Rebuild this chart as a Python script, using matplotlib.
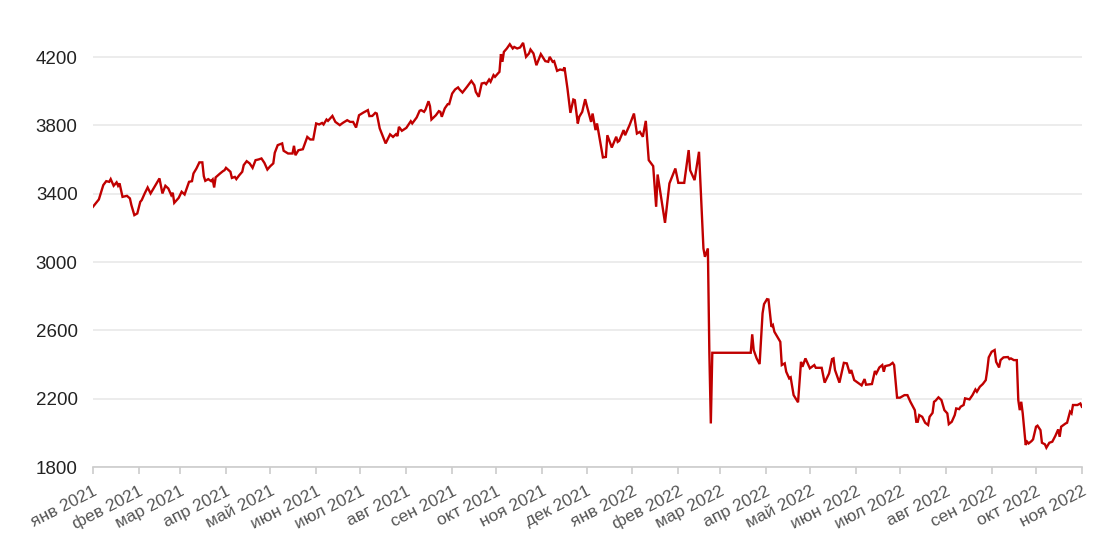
import matplotlib
matplotlib.use("Agg")
import matplotlib.pyplot as plt
import pandas as pd

dates = [
 "2021-01-01","2021-01-05","2021-01-08","2021-01-10","2021-01-12","2021-01-13","2021-01-15","2021-01-17","2021-01-18","2021-01-19",
 "2021-01-21","2021-01-24","2021-01-26","2021-01-27","2021-01-29","2021-01-31","2021-02-02","2021-02-03","2021-02-05","2021-02-07",
 "2021-02-09","2021-02-11","2021-02-15","2021-02-17","2021-02-19","2021-02-21","2021-02-23","2021-02-24","2021-02-25","2021-02-28",
 "2021-03-02","2021-03-04","2021-03-07","2021-03-09","2021-03-10","2021-03-12","2021-03-14","2021-03-16","2021-03-17","2021-03-18",
 "2021-03-20","2021-03-22","2021-03-23","2021-03-24","2021-03-25","2021-03-28","2021-03-30","2021-03-31","2021-04-01","2021-04-04",
 "2021-04-05","2021-04-07","2021-04-08","2021-04-10","2021-04-12","2021-04-13","2021-04-15","2021-04-17","2021-04-19","2021-04-21",
 "2021-04-23","2021-04-25","2021-04-27","2021-04-29","2021-05-01","2021-05-03","2021-05-04","2021-05-06","2021-05-09","2021-05-10",
 "2021-05-13","2021-05-16","2021-05-17","2021-05-18","2021-05-20","2021-05-23","2021-05-26","2021-05-28","2021-05-30","2021-06-01",
 "2021-06-03","2021-06-05","2021-06-06","2021-06-08","2021-06-09","2021-06-12","2021-06-14","2021-06-17","2021-06-19","2021-06-22",
 "2021-06-24","2021-06-26","2021-06-28","2021-06-30","2021-07-03","2021-07-06","2021-07-07","2021-07-09","2021-07-11","2021-07-12",
 "2021-07-14","2021-07-18","2021-07-20","2021-07-21","2021-07-23","2021-07-25","2021-07-26","2021-07-27","2021-07-29","2021-08-01",
 "2021-08-04","2021-08-05","2021-08-08","2021-08-10","2021-08-11","2021-08-13","2021-08-14","2021-08-16","2021-08-17","2021-08-18",
 "2021-08-21","2021-08-23","2021-08-24","2021-08-25","2021-08-27","2021-08-29","2021-08-30","2021-09-01","2021-09-03","2021-09-05",
 "2021-09-06","2021-09-08","2021-09-11","2021-09-14","2021-09-16","2021-09-17","2021-09-19","2021-09-21","2021-09-23","2021-09-24",
 "2021-09-26","2021-09-27","2021-09-29","2021-09-30","2021-10-02","2021-10-03","2021-10-04","2021-10-05","2021-10-06","2021-10-08",
 "2021-10-10","2021-10-12","2021-10-13","2021-10-15","2021-10-17","2021-10-19","2021-10-21","2021-10-23","2021-10-24","2021-10-26",
 "2021-10-28","2021-10-31","2021-11-03","2021-11-05","2021-11-06","2021-11-08","2021-11-09","2021-11-11","2021-11-13","2021-11-15",
 "2021-11-16","2021-11-18","2021-11-20","2021-11-22","2021-11-23","2021-11-25","2021-11-26","2021-11-28","2021-11-30","2021-12-01",
 "2021-12-04","2021-12-05","2021-12-07","2021-12-08","2021-12-12","2021-12-14","2021-12-15","2021-12-18","2021-12-21","2021-12-22",
 "2021-12-23","2021-12-26","2021-12-27","2021-12-30","2022-01-02","2022-01-04","2022-01-06","2022-01-08","2022-01-10","2022-01-12",
 "2022-01-15","2022-01-17","2022-01-18","2022-01-23","2022-01-26","2022-01-30","2022-02-01","2022-02-05","2022-02-08","2022-02-09",
 "2022-02-12","2022-02-15","2022-02-18","2022-02-19","2022-02-21","2022-02-22","2022-02-23","2022-02-24","2022-03-22","2022-03-23",
 "2022-03-24","2022-03-26","2022-03-28","2022-03-30","2022-03-31","2022-04-02","2022-04-03","2022-04-05","2022-04-06","2022-04-07",
 "2022-04-11","2022-04-12","2022-04-14","2022-04-15","2022-04-17","2022-04-18","2022-04-20","2022-04-23","2022-04-25","2022-04-26",
 "2022-04-28","2022-05-01","2022-05-04","2022-05-05","2022-05-09","2022-05-11","2022-05-14","2022-05-16","2022-05-17","2022-05-18",
 "2022-05-21","2022-05-24","2022-05-26","2022-05-28","2022-05-29","2022-05-31","2022-06-03","2022-06-05","2022-06-07","2022-06-08",
 "2022-06-12","2022-06-14","2022-06-15","2022-06-17","2022-06-19","2022-06-20","2022-06-21","2022-06-24","2022-06-26","2022-06-27",
 "2022-06-29","2022-07-01","2022-07-04","2022-07-06","2022-07-08","2022-07-11","2022-07-12","2022-07-13","2022-07-14","2022-07-16",
 "2022-07-18","2022-07-20","2022-07-21","2022-07-23","2022-07-24","2022-07-25","2022-07-27","2022-07-29","2022-07-31","2022-08-02",
 "2022-08-03","2022-08-05","2022-08-07","2022-08-08","2022-08-10","2022-08-11","2022-08-13","2022-08-14","2022-08-17","2022-08-19",
 "2022-08-21","2022-08-22","2022-08-24","2022-08-26","2022-08-28","2022-08-29","2022-08-30","2022-09-01","2022-09-03","2022-09-04",
 "2022-09-06","2022-09-07","2022-09-09","2022-09-12","2022-09-13","2022-09-14","2022-09-16","2022-09-18","2022-09-19","2022-09-20",
 "2022-09-21","2022-09-22","2022-09-24","2022-09-25","2022-09-26","2022-09-28","2022-09-29","2022-10-01","2022-10-02","2022-10-04",
 "2022-10-05","2022-10-07","2022-10-08","2022-10-10","2022-10-12","2022-10-14","2022-10-16","2022-10-17","2022-10-18","2022-10-21",
 "2022-10-22","2022-10-24","2022-10-25","2022-10-26","2022-10-29","2022-10-31","2022-11-01",
]

values = [
 3324,3367,3451,3474,3470,3486,3447,3467,3447,3461,
 3382,3388,3373,3334,3275,3285,3353,3363,3402,3437,
 3402,3431,3490,3402,3447,3431,3392,3406,3347,3376,
 3412,3396,3470,3474,3519,3548,3584,3584,3503,3476,
 3486,3474,3484,3437,3496,3519,3533,3538,3552,3529,
 3493,3499,3486,3509,3529,3568,3591,3578,3552,3597,
 3601,3607,3581,3542,3562,3578,3640,3685,3695,3652,
 3636,3636,3681,3626,3655,3661,3733,3718,3718,3812,
 3806,3815,3806,3835,3827,3856,3821,3802,3815,3831,
 3821,3821,3788,3860,3876,3890,3855,3856,3874,3870,
 3783,3695,3730,3748,3733,3749,3738,3792,3769,3786,
 3825,3812,3847,3886,3890,3880,3894,3942,3913,3835,
 3860,3884,3880,3851,3900,3925,3925,3987,4011,4023,
 4011,3993,4026,4061,4036,3997,3968,4046,4050,4042,
 4069,4056,4095,4085,4105,4114,4218,4173,4231,4251,
 4276,4251,4260,4251,4257,4284,4202,4222,4245,4222,
 4153,4218,4177,4173,4202,4173,4177,4120,4128,4124,
 4140,4017,3874,3952,3948,3812,3851,3880,3954,3919,
 3821,3870,3773,3812,3613,3616,3743,3671,3734,3704,
 3710,3773,3743,3802,3870,3753,3763,3734,3827,3597,
 3562,3324,3513,3230,3461,3548,3464,3464,3656,3538,
 3480,3646,3080,3031,3080,2470,2055,2469,2469,2577,
 2485,2436,2403,2700,2754,2783,2781,2621,2631,2592,
 2533,2397,2407,2358,2319,2325,2221,2179,2416,2387,
 2436,2378,2397,2381,2381,2294,2348,2432,2436,2368,
 2294,2410,2407,2348,2368,2309,2290,2278,2315,2282,
 2286,2362,2348,2383,2397,2358,2391,2397,2410,2397,
 2206,2206,2221,2221,2182,2133,2065,2065,2104,2094,
 2059,2046,2094,2117,2182,2188,2208,2192,2133,2114,
 2051,2065,2104,2143,2139,2153,2163,2202,2196,2221,
 2254,2241,2270,2286,2309,2368,2442,2475,2485,2416,
 2383,2426,2442,2444,2432,2436,2426,2426,2192,2133,
 2182,2114,1929,1948,1938,1952,1962,2036,2042,2016,
 1942,1933,1913,1942,1948,1981,2020,1977,2036,2055,
 2059,2124,2114,2163,2163,2172,2153,
]

month_ticks = pd.date_range("2021-01-01", "2022-11-01", freq="MS")
month_names = ["янв", "фев", "мар", "апр", "май", "июн",
               "июл", "авг", "сен", "окт", "ноя", "дек"]
tick_labels = [f"{month_names[d.month - 1]} {d.year}" for d in month_ticks]
y_ticks = [1800, 2200, 2600, 3000, 3400, 3800, 4200]

x = pd.to_datetime(dates)

plt.rcParams["font.family"] = ["Liberation Sans", "DejaVu Sans"]
fig = plt.figure(figsize=(11, 5.48), dpi=100)
ax = fig.add_axes([0.0845, 0.1478, 0.899, 0.779])

ax.plot(x, values, color="#c00000", linewidth=1.7, solid_joinstyle="miter")

ax.set_xlim(month_ticks[0], month_ticks[-1])
ax.set_ylim(1800, 4300)
ax.set_yticks(y_ticks)
ax.set_yticklabels([str(v) for v in y_ticks])
ax.set_xticks(month_ticks)
ax.set_xticklabels(tick_labels, rotation=27, ha="right", rotation_mode="anchor")

ax.grid(axis="y", color="#ebebeb", linewidth=1.3)
ax.set_axisbelow(True)
for s in ["top", "right", "left"]:
    ax.spines[s].set_visible(False)
ax.spines["bottom"].set_color("#cccccc")
ax.spines["bottom"].set_linewidth(1.2)

ax.tick_params(axis="y", length=0, labelsize=13.5, labelcolor="#222222", pad=11)
ax.tick_params(axis="x", length=5, color="#cccccc", width=1.2,
               labelsize=12.5, labelcolor="#555555", pad=7)

fig.savefig("out.png", dpi=100)
